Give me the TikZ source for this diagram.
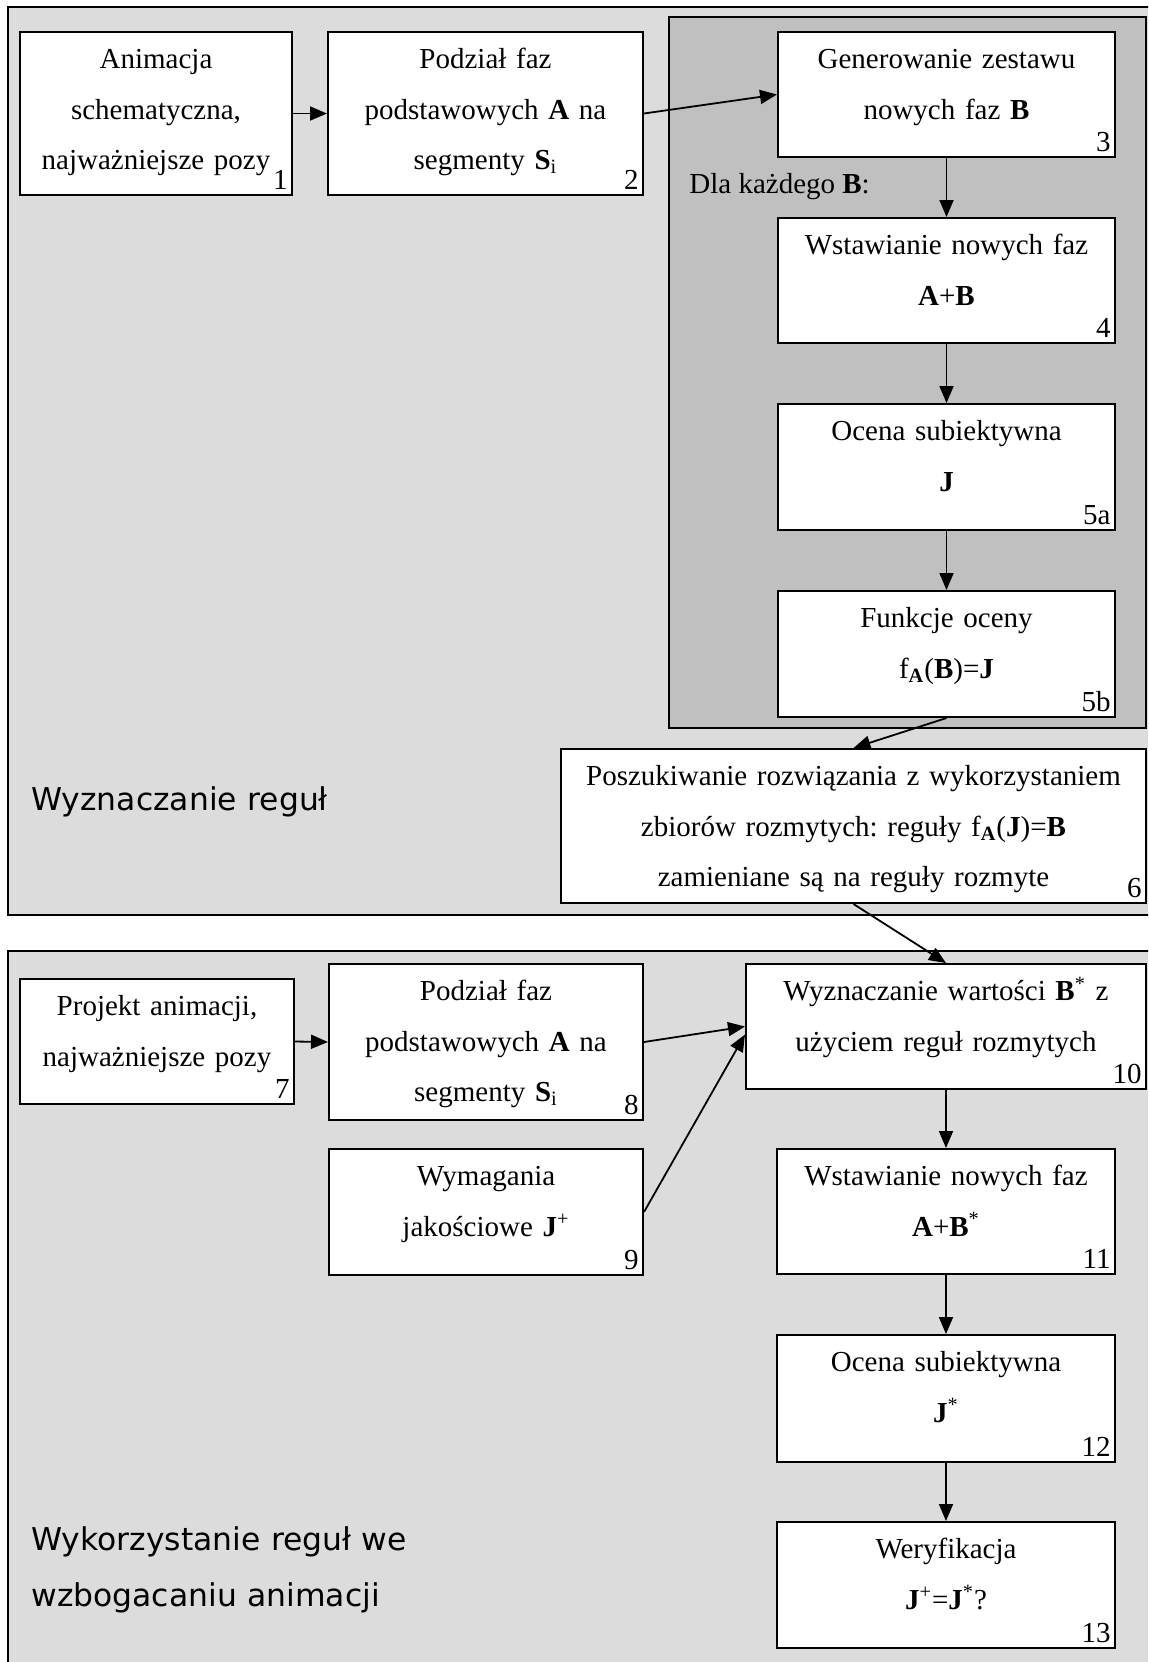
\documentclass[tikz,border=0pt]{standalone}
\usepackage{fontspec}
\setmainfont{Liberation Serif}
\newfontfamily\labelsans{DejaVu Sans}
\usetikzlibrary{arrows.meta,calc}
\definecolor{panellight}{HTML}{DCDCDC}
\definecolor{paneldark}{HTML}{C0C0C0}
\frenchspacing

% #1 name, #2..#5 corners (x1,y1,x2,y2), #6 step number, #7 text
\newcommand\flowbox[7]{%
  \node[box, minimum width={(#4-#2)*0.5pt}, minimum height={(#5-#3)*0.5pt}]
    (#1) at ({(#2+#4)/2},{(#3+#5)/2}) {};
  \node[txt, text width={(#4-#2-6)*0.5pt}] (#1t) at ($(#1.north)+(0,37.5)$) {#7};
  \node[num] (#1n) at ($(#1.south east)+(-5,-7)$) {#6};
}

\begin{document}
\begin{tikzpicture}[x=0.5pt, y=-0.5pt,
  box/.style={draw, fill=white, line width=1pt, rectangle, inner sep=0pt},
  txt/.style={anchor=base, align=center, inner sep=0pt,
    font=\fontsize{14.5pt}{25.25pt}\selectfont},
  num/.style={anchor=base east, inner sep=0pt, font=\fontsize{14.5pt}{17pt}\selectfont},
  panel/.style={draw, line width=1pt},
  sect/.style={anchor=base west, inner sep=0pt, align=left, text width=250pt,
    font=\labelsans\fontsize{15.7pt}{28pt}\selectfont},
  arr/.style={line width=0.9pt, -{Triangle[length=8.5pt,width=7pt]}}]

\useasboundingbox (0,0) rectangle (1148,1662);
\clip (0,0) rectangle (1148,1662);
\fill[white] (0,0) rectangle (1148,1662);

% background panels
\draw[panel, fill=panellight] (8,7) rectangle (1200,915);
\draw[panel, fill=paneldark] (669,17) rectangle (1146,728);
\draw[panel, fill=panellight] (8,951) rectangle (1200,1700);

% upper stage: rule extraction
\flowbox{b1}{20}{32}{292}{195}{1}{Animacja\\schematyczna,\\najważniejsze pozy}
\flowbox{b2}{328}{32}{643}{195}{2}{Podział faz\\podstawowych \textbf{A} na\\segmenty \textbf{S}\textsubscript{i}}
\flowbox{b3}{778}{32}{1115}{157}{3}{Generowanie zestawu\\nowych faz \textbf{B}}
\flowbox{b4}{778}{218}{1115}{343}{4}{Wstawianie nowych faz\\\textbf{A}+\textbf{B}}
\flowbox{b5a}{778}{404}{1115}{530}{5a}{Ocena subiektywna\\\textbf{J}}
\flowbox{b5b}{778}{591}{1115}{717}{5b}{Funkcje oceny\\f\textsubscript{\textbf{A}}(\textbf{B})=\textbf{J}}
\flowbox{b6}{561}{749}{1146}{903}{6}{Poszukiwanie rozwiązania z wykorzystaniem\\zbiorów rozmytych: reguły f\textsubscript{\textbf{A}}(\textbf{J})=\textbf{B}\\zamieniane są na reguły rozmyte}

\node[anchor=base west, inner sep=0pt, font=\fontsize{14.5pt}{17pt}\selectfont]
  (loop) at (689,193) {Dla każdego \textbf{B}:};
\node[sect] (lab1) at (31,810) {Wyznaczanie reguł};

% lower stage: applying the rules
\flowbox{b7}{20}{979}{294}{1104}{7}{Projekt animacji,\\najważniejsze pozy}
\flowbox{b8}{329}{964}{643}{1120}{8}{Podział faz\\podstawowych \textbf{A} na\\segmenty \textbf{S}\textsubscript{i}}
\flowbox{b9}{329}{1149}{643}{1275}{9}{Wymagania\\jakościowe \textbf{J}\textsuperscript{+}}
\flowbox{b10}{746}{964}{1146}{1089}{10}{Wyznaczanie wartości \textbf{B}\textsuperscript{*} z\\użyciem reguł rozmytych}
\flowbox{b11}{777}{1149}{1115}{1274}{11}{Wstawianie nowych faz\\\textbf{A}+\textbf{B}\textsuperscript{*}}
\flowbox{b12}{777}{1335}{1115}{1462}{12}{Ocena subiektywna\\\textbf{J}\textsuperscript{*}}
\flowbox{b13}{777}{1522}{1115}{1648}{13}{Weryfikacja\\\textbf{J}\textsuperscript{+}=\textbf{J}\textsuperscript{*}?}

\node[sect] (lab2) at (31,1550) {Wykorzystanie reguł we\\wzbogacaniu animacji};

% connectors
\draw[arr] (b1.east) -- (b2.west);
\draw[arr] (b2.east) -- (b3.west);
\draw[arr] (b3.south) -- (b4.north);
\draw[arr] (b4.south) -- (b5a.north);
\draw[arr] (b5a.south) -- (b5b.north);
\draw[arr] (b5b.south) -- (b6.north);
\draw[arr] (b6.south) -- (b10.north);
\draw[arr] (b7.east) -- (b8.west);
\draw[arr] (b8.east) -- (b10.west);
\draw[arr] (b9.east) -- ([yshift=-4pt]b10.west);
\draw[arr] (b10.south) -- (b11.north);
\draw[arr] (b11.south) -- (b12.north);
\draw[arr] (b12.south) -- (b13.north);
\end{tikzpicture}
\end{document}
